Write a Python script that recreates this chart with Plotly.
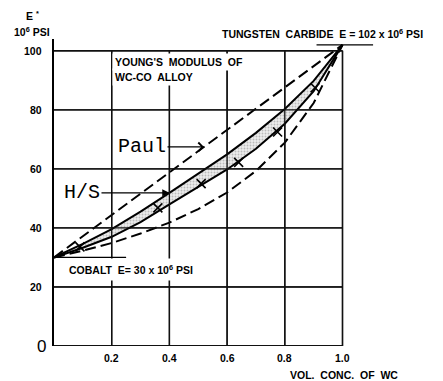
import numpy as np
import plotly.graph_objects as go

# Volume concentration of WC and Young's modulus (10^6 psi) for WC-Co alloys
vol_wc = [0.0, 0.1, 0.2, 0.3, 0.4, 0.5, 0.6, 0.7, 0.8, 0.9, 1.0]
paul_upper = [30.0, 37.2, 44.4, 51.6, 58.8, 66.0, 73.2, 80.4, 87.6, 94.8, 102.0]
hs_upper = [30.0, 34.6, 39.6, 45.5, 51.9, 58.3, 64.9, 72.2, 80.3, 89.8, 102.0]
hs_lower = [30.0, 33.3, 37.0, 42.0, 48.0, 53.8, 59.8, 66.8, 75.3, 86.3, 102.0]
paul_lower = [30.0, 32.3, 34.9, 38.1, 41.8, 46.4, 52.0, 59.3, 68.9, 82.3, 102.0]

# measured moduli
meas_x = [0.09, 0.36, 0.51, 0.64, 0.775, 0.905]
meas_e = [33.6, 46.8, 55.0, 62.2, 72.5, 87.5]

x_ticks = [0.2, 0.4, 0.6, 0.8, 1.0]
x_tick_text = ["0.2", "0.4", "0.6", "0.8", "1.0"]
y_ticks = [20, 40, 60, 80, 100]
y_tick_text = ["20", "40", "60", "80", "100"]

E_CO = 30
E_WC = 102

X_MAX = 1.13
Y_MAX = 104

LETTER = dict(family="Liberation Sans", size=10.5, color="black", weight="bold")
TYPE = dict(family="Liberation Mono", size=20, color="black")
NB = "\u00a0"

fig = go.Figure()

# square grid bounded by the last tick on each axis, one trace per line
for yv in [0] + y_ticks:
    fig.add_trace(go.Scatter(x=[0, x_ticks[-1]], y=[yv, yv], mode="lines",
                             line=dict(color="#111111", width=1.8 if yv == 0 else 1.4),
                             hoverinfo="skip", showlegend=False))
for xv in x_ticks:
    fig.add_trace(go.Scatter(x=[xv, xv], y=[0, y_ticks[-1]], mode="lines",
                             line=dict(color="#111111", width=1.4),
                             hoverinfo="skip", showlegend=False))

# stippled Hashin-Shtrikman band as a closed polygon
fig.add_trace(go.Scatter(x=vol_wc + vol_wc[::-1], y=hs_upper + hs_lower[::-1],
                         mode="none", fill="toself", fillcolor="rgba(0,0,0,0)",
                         fillpattern=dict(shape=".", fgcolor="#8a8a8a",
                                          bgcolor="#ececec", size=3, solidity=0.3),
                         hoverinfo="skip", showlegend=False))
for ys in (hs_lower, hs_upper):
    fig.add_trace(go.Scatter(x=vol_wc, y=ys, mode="lines",
                             line=dict(color="black", width=2), showlegend=False))
# Paul bounds
for ys in (paul_upper, paul_lower):
    fig.add_trace(go.Scatter(x=vol_wc, y=ys, mode="lines",
                             line=dict(color="black", width=2, dash="11px,5px"),
                             showlegend=False))
fig.add_trace(go.Scatter(x=meas_x, y=meas_e, mode="markers",
                         marker=dict(symbol="x-thin", size=9, color="black",
                                     line=dict(color="black", width=1.6)),
                         showlegend=False))

# the same grid repeated as layout lines, plus leaders under the end-member labels
shapes = []
for yv in y_ticks:
    shapes.append(dict(type="line", xref="x", yref="y", x0=0, x1=x_ticks[-1],
                       y0=yv, y1=yv, line=dict(color="#111111", width=1.3)))
for xv in x_ticks:
    shapes.append(dict(type="line", xref="x", yref="y", x0=xv, x1=xv,
                       y0=0, y1=y_ticks[-1], line=dict(color="#111111", width=1.3)))
shapes.append(dict(type="line", xref="x", yref="y", x0=0, x1=0.25, y0=E_CO, y1=E_CO,
                   line=dict(color="black", width=1.3)))
shapes.append(dict(type="line", xref="x", yref="y", x0=0.91, x1=1.106, y0=E_WC, y1=E_WC,
                   line=dict(color="black", width=1.3)))

annotations = []
# tick labels
for xv, tt in zip(x_ticks, x_tick_text):
    annotations.append(dict(xref="x", yref="paper", x=xv, y=-0.038, xanchor="center",
                            yanchor="middle", text=tt, showarrow=False, font=LETTER))
for yv, tt in zip(y_ticks, y_tick_text):
    annotations.append(dict(xref="paper", yref="y", x=-0.03, y=yv, xanchor="right",
                            yanchor="middle", text=tt, showarrow=False, font=LETTER))

annotations += [
    dict(xref="paper", yref="paper", x=-0.092, y=1.075, xanchor="left", yanchor="middle",
         text="E" + NB + "<sup>*</sup>", showarrow=False, font=LETTER),
    dict(xref="paper", yref="paper", x=-0.13, y=1.026, xanchor="left", yanchor="middle",
         text="10<sup>6</sup>" + NB + "PSI", showarrow=False, font=LETTER),
    dict(xref="paper", yref="paper", x=-0.037, y=0, xanchor="center", yanchor="middle",
         text="0", showarrow=False,
         font=dict(family="Liberation Sans", size=17, color="black")),
    dict(xref="paper", yref="paper", x=0.891, y=-0.094, xanchor="center", yanchor="middle",
         text="VOL." + NB + " CONC." + NB + " OF" + NB + " WC", showarrow=False, font=LETTER),
    dict(xref="x", yref="y", x=0.201, y=96.3, xanchor="left", yanchor="middle",
         text="YOUNG'S" + NB + " MODULUS" + NB + " OF", showarrow=False, font=LETTER,
         bgcolor="white", borderpad=2),
    dict(xref="x", yref="y", x=0.201, y=91.2, xanchor="left", yanchor="middle",
         text="WC-CO" + NB + " ALLOY", showarrow=False, font=LETTER,
         bgcolor="white", borderpad=2),
    dict(xref="paper", yref="paper", x=0.509, y=1.0195, xanchor="left", yanchor="middle",
         text="TUNGSTEN" + NB + " CARBIDE" + NB + " E" + NB + "=" + NB + str(E_WC)
              + NB + "x" + NB + "10<sup>6</sup>" + NB + "PSI",
         showarrow=False, font=LETTER),
    dict(xref="x", yref="y", x=0.035, y=25.8, xanchor="left", yanchor="middle",
         text="COBALT" + NB + " E=" + NB + str(E_CO) + NB + "x" + NB + "10<sup>6</sup>"
              + NB + "PSI",
         showarrow=False, font=LETTER, bgcolor="white", borderpad=4),
    dict(xref="x", yref="y", x=0.52, y=float(np.interp(0.52, vol_wc, paul_upper)),
         axref="x", ayref="y", ax=0.305, ay=float(np.interp(0.52, vol_wc, paul_upper)),
         text="Paul", showarrow=True, arrowhead=4, arrowsize=1.3, arrowwidth=1.3,
         arrowcolor="black", font=TYPE),
    dict(xref="x", yref="y", x=0.4, y=hs_upper[4], axref="x", ayref="y",
         ax=0.097, ay=hs_upper[4], text="H/S", showarrow=True, arrowhead=2,
         arrowsize=1.1, arrowwidth=1.3, arrowcolor="black", font=TYPE),
]

fig.update_layout(
    width=443, height=381,
    margin=dict(l=54, r=63, t=39, b=35),
    paper_bgcolor="white", plot_bgcolor="white",
    shapes=shapes, annotations=annotations,
    xaxis=dict(range=[0, X_MAX], showgrid=False, zeroline=False, showline=False,
               showticklabels=False, ticks=""),
    yaxis=dict(range=[0, Y_MAX], showgrid=False, zeroline=False, showline=True,
               linecolor="black", linewidth=2, showticklabels=False, ticks=""),
)

fig.write_html("out.html")
